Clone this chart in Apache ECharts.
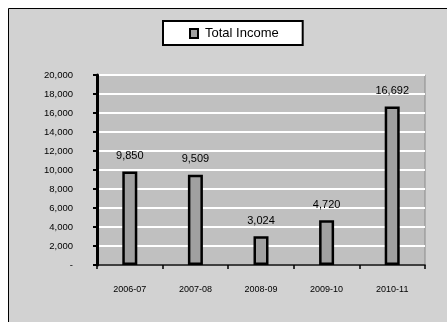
<!DOCTYPE html>
<html>
<head>
<meta charset="utf-8">
<script src="https://cdn.jsdelivr.net/npm/echarts@6/dist/echarts.min.js"></script>
<style>
  html, body { margin: 0; padding: 0; background: #ffffff; }
  #chart { width: 447px; height: 322px; }
</style>
</head>
<body>
<div id="chart"></div>
<script>
// Fiscal years and total income per year
const years = ['2006-07', '2007-08', '2008-09', '2009-10', '2010-11'];
const totalIncome = [9850, 9509, 3024, 4720, 16692];
const seriesName = 'Total Income';
const yMax = 20000;
const yStep = 2000;

const fmt = v => v === 0 ? '-' : v.toLocaleString('en-US');

const chart = echarts.init(document.getElementById('chart'));
chart.setOption({
  animation: false,
  backgroundColor: '#ffffff',
  textStyle: { fontFamily: 'Liberation Sans, Arial, sans-serif' },
  graphic: [
    {
      type: 'rect', z: -10, silent: true,
      shape: { x: 8.5, y: 8.5, width: 450, height: 330 },
      style: { fill: '#d2d2d2', stroke: '#000000', lineWidth: 1 }
    }
  ],
  legend: {
    data: [seriesName],
    icon: 'rect',
    left: 163, top: 21,
    padding: [6, 24, 5, 26],
    itemWidth: 8, itemHeight: 9,
    itemGap: 4,
    backgroundColor: '#ffffff',
    borderColor: '#000000',
    borderWidth: 2,
    textStyle: { fontSize: 13, color: '#000000', padding: [0, 0, 0, 2] }
  },
  grid: {
    left: 97, right: 22, top: 75, bottom: 57,
    show: true, backgroundColor: '#c0c0c0', borderColor: '#8a8a8a', borderWidth: 1
  },
  xAxis: {
    type: 'category',
    data: years,
    axisLine: { lineStyle: { color: '#000000', width: 1.5 } },
    axisTick: { show: true, length: 4, lineStyle: { color: '#000000', width: 1.5 } },
    axisLabel: { fontSize: 9, color: '#000000', margin: 20 }
  },
  yAxis: {
    type: 'value',
    min: 0, max: yMax, interval: yStep,
    axisLine: { show: true, lineStyle: { color: '#000000', width: 3 } },
    axisTick: { show: true, length: 4, lineStyle: { color: '#000000', width: 2 } },
    axisLabel: { fontSize: 9.5, color: '#000000', margin: 24, formatter: fmt },
    splitLine: { lineStyle: { color: '#ffffff', width: 2 } }
  },
  series: [{
    name: seriesName,
    type: 'bar',
    data: totalIncome,
    barWidth: 15,
    itemStyle: { color: '#a0a0a0', borderColor: '#000000', borderWidth: 2.5 },
    label: {
      show: true, position: 'top', distance: 10,
      fontSize: 11, color: '#000000',
      formatter: p => fmt(p.value)
    }
  }]
});
</script>
</body>
</html>
